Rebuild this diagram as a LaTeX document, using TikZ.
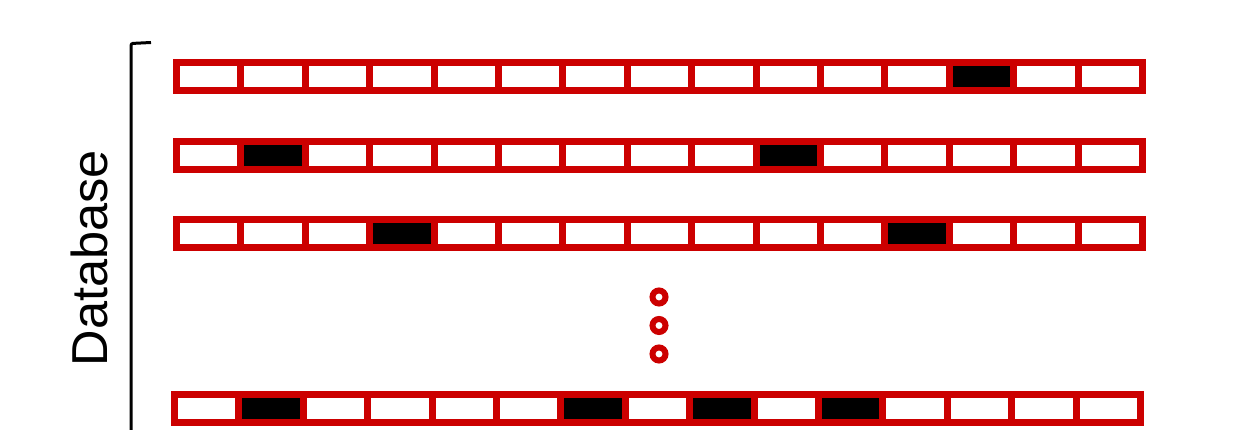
\documentclass[tikz,border=0pt]{standalone}
\usepackage{fontspec}
\newfontfamily\lsans{Liberation Sans}
\definecolor{barred}{RGB}{204,0,0}
\begin{document}
\begin{tikzpicture}[x=1pt,y=1pt,
  cellbox/.style={draw=barred,line width=7pt,fill=white,rectangle,inner sep=0pt,
    minimum width=64.4pt,minimum height=28pt,line join=miter},
  hitbox/.style={cellbox,fill=black},
  dotring/.style={draw=barred,line width=6pt,circle,inner sep=0pt,minimum size=13pt},
  brack/.style={draw=black,line width=3pt,rounded corners=2pt}]
\useasboundingbox (0,0) rectangle (1241,430);
% rows: name/y/x offset/black cells
\foreach \r/\yy/\xl/\blk in {1/353.2/173/{13},2/274.7/173/{2,10},3/196.5/173/{4,12},4/21/171/{2,7,9,11}}{
  \foreach \c in {1,...,15}{
    \node[cellbox] (r\r c\c) at ({\xl+3.5+(\c-0.5)*64.4},\yy) {};
  }
  \foreach \c in \blk{
    \node[hitbox] (r\r b\c) at ({\xl+3.5+(\c-0.5)*64.4},\yy) {};
  }
}
% vertical dots
\node[dotring] (dot1) at (659,133) {};
\node[dotring] (dot2) at (659,104.5) {};
\node[dotring] (dot3) at (659,76) {};
% bracket
\coordinate (bbot) at (131,-2);
\coordinate (bcorner) at (131,386.5);
\coordinate (btip) at (151,387.5);
\draw[brack] (bbot) -- (bcorner) -- (btip);
% label
\node[rotate=90,inner sep=0pt,font=\lsans\fontsize{50.5}{60}\selectfont] (dblabel) at (89,172) {Database};
\end{tikzpicture}
\end{document}
